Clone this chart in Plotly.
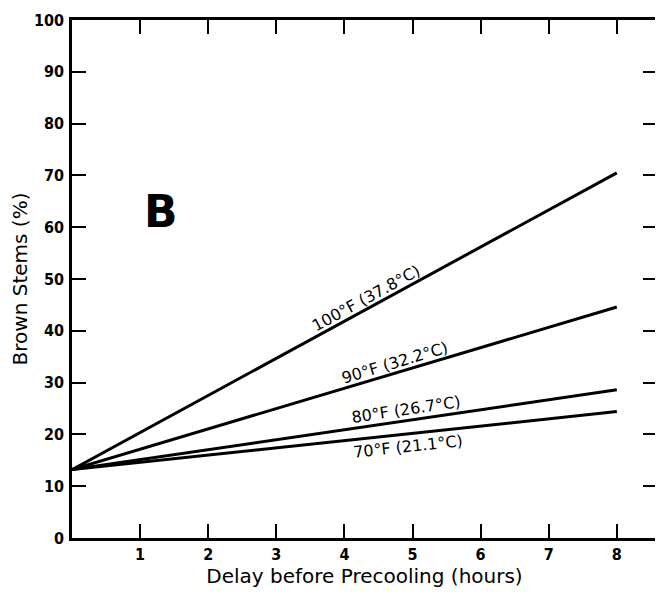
import plotly.graph_objects as go

hours = [0, 8]
series_names = ["100°F (37.8°C)", "90°F (32.2°C)", "80°F (26.7°C)", "70°F (21.1°C)"]
series_values = [
    [13.2, 70.5],
    [13.2, 44.6],
    [13.2, 28.6],
    [13.2, 24.4],
]
label_x = [4.31, 4.75, 4.9, 4.93]
label_y = [46.3, 33.8, 24.9, 17.7]
label_angle = [-28.6, -16.7, -8.4, -6.1]

x_ticks = [1, 2, 3, 4, 5, 6, 7, 8]
y_ticks = [0, 10, 20, 30, 40, 50, 60, 70, 80, 90, 100]

fig = go.Figure()
for name, vals in zip(series_names, series_values):
    fig.add_trace(go.Scatter(x=hours, y=vals, mode="lines", name=name,
                             line=dict(color="black", width=3), showlegend=False))

for name, lx, ly, ang in zip(series_names, label_x, label_y, label_angle):
    fig.add_annotation(x=lx, y=ly, text=name, showarrow=False, textangle=ang,
                       font=dict(family="DejaVu Sans", size=16, color="black"))

fig.add_annotation(x=1.31, y=63.1, text="<b>B</b>", showarrow=False,
                   font=dict(family="DejaVu Sans", size=44, color="black"))

axis_common = dict(showline=True, linecolor="black", linewidth=2.5, mirror="ticks",
                   ticks="inside", tickcolor="black", tickwidth=1.5, ticklen=14,
                   showgrid=False, zeroline=False, automargin=False,
                   tickfont=dict(family="DejaVu Sans Condensed, DejaVu Sans", size=16,
                                 color="black", weight="bold"))

fig.update_xaxes(range=[0, 8.59], tickvals=x_ticks, ticktext=[str(v) for v in x_ticks],
                 ticklabelstandoff=0,
                 title=dict(text="Delay before Precooling (hours)", standoff=2,
                            font=dict(family="DejaVu Sans", size=20, color="black")),
                 **axis_common)
fig.update_yaxes(range=[0, 100], tickvals=y_ticks, ticktext=[str(v) for v in y_ticks],
                 ticklabelstandoff=2,
                 title=dict(text="Brown Stems (%)", standoff=8,
                            font=dict(family="DejaVu Sans", size=20, color="black")),
                 **axis_common)

# page body has an 8px default margin, so margins compensate for that offset
fig.update_layout(width=663, height=594, margin=dict(l=64, r=14, t=12, b=64),
                  plot_bgcolor="white", paper_bgcolor="white")

fig.write_html("out.html")
